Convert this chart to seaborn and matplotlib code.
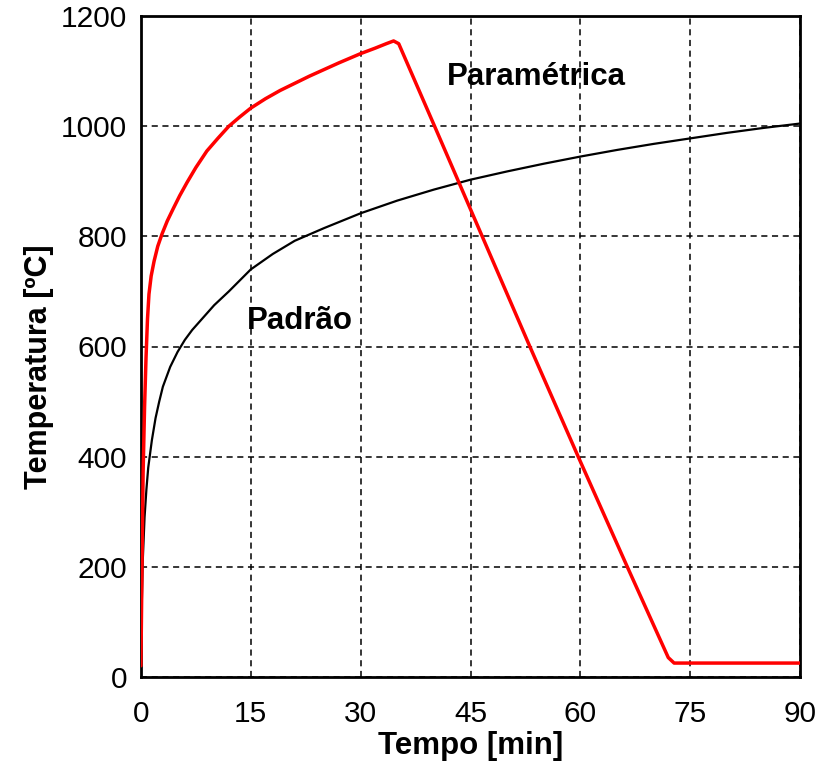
import matplotlib
matplotlib.use("Agg")
import matplotlib.pyplot as plt
import seaborn as sns
import pandas as pd

# Standard fire curve ("Padrão")
padrao_t = [0, 0.1, 0.25, 0.5, 0.75, 1, 1.5, 2, 2.5, 3, 4, 5, 6, 7, 8, 10, 12, 15,
            18, 21, 25, 30, 35, 40, 45, 50, 55, 60, 65, 70, 75, 80, 85, 90]
padrao_T = [20, 120, 210, 290, 340, 380, 430, 470, 500, 527, 563, 590, 612, 630,
            645, 675, 700, 740, 768, 792, 815, 842, 865, 885, 903, 918, 932, 945,
            957, 968, 978, 988, 997, 1005]

# Parametric fire curve ("Paramétrica")
param_t = [0, 0.15, 0.3, 0.5, 0.7, 0.9, 1.1, 1.4, 1.8, 2.3, 2.9, 3.6, 4.4, 5.3,
           6.3, 7.5, 9, 10.5, 12, 13.5, 15, 17, 19, 21, 23, 25, 27, 30, 32, 33.5,
           34.5, 35.2, 40.1, 46.6, 53.1, 59.7, 66.4, 72.0, 72.8, 90]
param_T = [20, 200, 370, 490, 580, 650, 695, 728, 755, 782, 805, 828, 850, 874,
           898, 925, 955, 978, 1000, 1017, 1033, 1050, 1065, 1078, 1091, 1103, 1115,
           1132, 1142, 1150, 1155, 1150, 1000, 800, 600, 400, 200, 35, 25, 25]

x_ticks = [0, 15, 30, 45, 60, 75, 90]
y_ticks = [0, 200, 400, 600, 800, 1000, 1200]

sns.set_theme(style="white")
plt.rcParams['font.family'] = ['Liberation Sans', 'DejaVu Sans']

fig = plt.figure(figsize=(8.24, 7.70), dpi=100)
ax = fig.add_axes([0.171, 0.121, 0.800, 0.858])

df_p = pd.DataFrame({"t": padrao_t, "T": padrao_T})
df_r = pd.DataFrame({"t": param_t, "T": param_T})

sns.lineplot(data=df_p, x="t", y="T", ax=ax, color="black", linewidth=1.6,
             sort=False, estimator=None, zorder=3)
sns.lineplot(data=df_r, x="t", y="T", ax=ax, color="#ff0000", linewidth=2.5,
             sort=False, estimator=None, zorder=4)

ax.set_xlim(0, 90)
ax.set_ylim(0, 1200)
ax.set_xticks(x_ticks)
ax.set_yticks(y_ticks)
ax.set_xticklabels([str(v) for v in x_ticks])
ax.set_yticklabels([str(v) for v in y_ticks])

ax.grid(True, color="black", linestyle=(0, (4, 3)), linewidth=1.1, zorder=1)
for sp in ax.spines.values():
    sp.set_color("black")
    sp.set_linewidth(2.0)
    sp.set_visible(True)

ax.tick_params(axis="both", direction="in", length=5, width=1.5, color="black",
               labelsize=21.5, labelcolor="black")
ax.tick_params(axis="x", pad=17)
ax.tick_params(axis="y", pad=10)

ax.set_xlabel("Tempo [min]", fontsize=22.5, fontweight="bold", color="black",
              labelpad=2)
ax.set_ylabel("Temperatura [ºC]", fontsize=22, fontweight="bold", color="black")
ax.yaxis.set_label_coords(-0.132, 0.47)

ax.text(41.8, 1090, "Paramétrica", fontsize=22.5, fontweight="bold",
        ha="left", va="center", color="black", zorder=5)
ax.text(14.4, 647, "Padrão", fontsize=22.5, fontweight="bold",
        ha="left", va="center", color="black", zorder=5)

fig.savefig("out.png", dpi=100, facecolor="white")
